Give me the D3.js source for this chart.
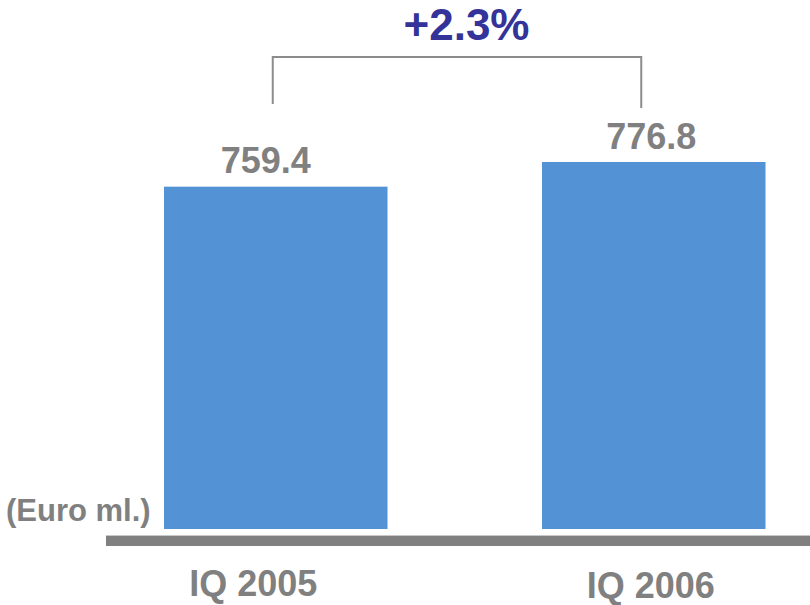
<!DOCTYPE html>
<html>
<head>
<meta charset="utf-8">
<script src="https://cdn.jsdelivr.net/npm/d3@7"></script>
<style>
  html, body { margin: 0; padding: 0; background: #ffffff; }
  svg { display: block; font-family: "Liberation Sans", Arial, sans-serif; font-weight: bold; }
</style>
</head>
<body>
<svg id="chart" width="810" height="605"></svg>
<script>
// ---- data ----
const categories = ["IQ 2005", "IQ 2006"];
const values = [759.4, 776.8];
const valueLabels = ["759.4", "776.8"];
const changeLabel = "+2.3%";
const unitLabel = "(Euro ml.)";

// ---- layout ----
const svg = d3.select("#chart");
const barColor = "#5393d5";
const grey = "#808080";

const x = d3.scaleBand()
  .domain(categories)
  .range([164, 765.5])
  .paddingInner(0.4087)
  .paddingOuter(0);

const y = d3.scaleLinear()
  .domain([518, 776.8])
  .range([529, 162]);

// bars
svg.selectAll("rect.bar")
  .data(values)
  .enter().append("rect")
  .attr("class", "bar")
  .attr("x", (d, i) => x(categories[i]))
  .attr("y", d => y(d))
  .attr("width", x.bandwidth())
  .attr("height", d => y.range()[0] - y(d))
  .attr("fill", barColor);

// base line
svg.append("rect")
  .attr("x", 106).attr("y", 536)
  .attr("width", 704).attr("height", 10)
  .attr("fill", grey);
svg.append("line")
  .attr("x1", 106).attr("x2", 810)
  .attr("y1", 535.5).attr("y2", 535.5)
  .attr("stroke", "#c8c8c8").attr("stroke-width", 1);

// value labels
const valShift = [-10, -2.5];
svg.selectAll("text.val")
  .data(values)
  .enter().append("text")
  .attr("class", "val")
  .attr("x", (d, i) => x(categories[i]) + x.bandwidth() / 2 + valShift[i])
  .attr("y", d => y(d) - 13.5)
  .attr("text-anchor", "middle")
  .attr("font-size", 36)
  .attr("fill", grey)
  .text((d, i) => valueLabels[i]);

// category labels
const catShift = [-22.5, -3];
const catBase = [596, 598];
svg.selectAll("text.cat")
  .data(categories)
  .enter().append("text")
  .attr("class", "cat")
  .attr("x", (d, i) => x(d) + x.bandwidth() / 2 + catShift[i])
  .attr("y", (d, i) => catBase[i])
  .attr("text-anchor", "middle")
  .attr("font-size", 36)
  .attr("fill", grey)
  .text(d => d);

// unit label
svg.append("text")
  .attr("x", 6).attr("y", 521)
  .attr("font-size", 31)
  .attr("fill", grey)
  .text(unitLabel);

// bracket
const bx1 = x(categories[0]) + x.bandwidth() / 2 - 3;
const bx2 = x(categories[1]) + x.bandwidth() / 2 - 12.5;
const by = 57;
svg.append("path")
  .attr("d", `M${bx1},104 L${bx1},${by} L${bx2},${by} L${bx2},108`)
  .attr("fill", "none")
  .attr("stroke", "#8c8c8c")
  .attr("stroke-width", 2);

// change label
svg.append("text")
  .attr("x", (bx1 + bx2) / 2 + 9.5)
  .attr("y", 40)
  .attr("text-anchor", "middle")
  .attr("font-size", 44)
  .attr("fill", "#333399")
  .text(changeLabel);
</script>
</body>
</html>
